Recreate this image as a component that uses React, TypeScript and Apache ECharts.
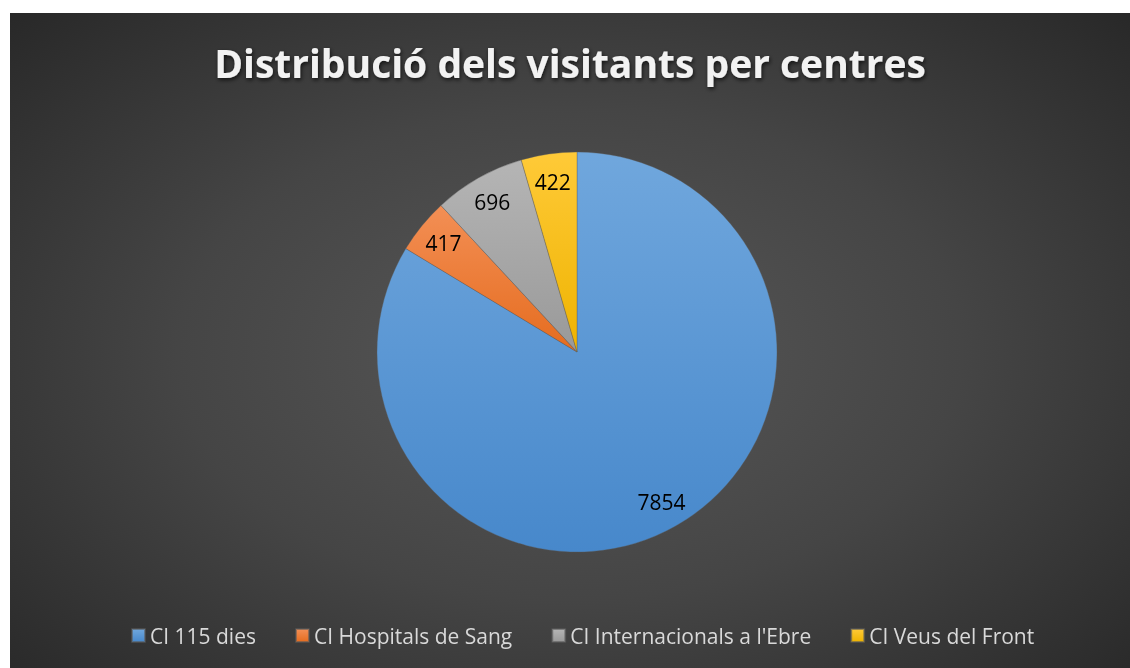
import React, { useEffect, useRef } from "react";
import * as echarts from "echarts";

const categories = ["CI 115 dies", "CI Hospitals de Sang", "CI Internacionals a l'Ebre", "CI Veus del Front"];
const visitants = [7854, 417, 696, 422];
const topColors = ["#70a7dd", "#f38f55", "#b5b5b5", "#ffca38"];
const bottomColors = ["#4788cb", "#e56c1f", "#999999", "#eeb300"];
const titleText = "Distribució dels visitants per centres";

export default function App() {
  const ref = useRef<HTMLDivElement>(null);
  useEffect(() => {
    if (!ref.current) return;
    const chart = echarts.init(ref.current, undefined, { renderer: "svg" });
    const data = categories.map((name, i) => ({
      name,
      value: visitants[i],
      itemStyle: {
        color: new echarts.graphic.LinearGradient(0, 0, 0, 1, [
          { offset: 0, color: topColors[i] },
          { offset: 1, color: bottomColors[i] },
        ]),
      },
    }));
    const labelData = categories.map((name, i) => ({ name, value: visitants[i] }));
    chart.setOption({
      animation: false,
      title: {
        text: titleText,
        left: "center",
        top: 25,
        textStyle: {
          fontFamily: "Open Sans",
          fontWeight: "bold",
          fontSize: 39,
          color: "#f2f2f2",
          textShadowColor: "rgba(0,0,0,0.7)",
          textShadowBlur: 4,
          textShadowOffsetX: 1,
          textShadowOffsetY: 2,
        },
      },
      legend: {
        data: categories,
        bottom: 17,
        left: 116,
        icon: "rect",
        itemWidth: 13,
        itemHeight: 13,
        itemGap: 39,
        textStyle: { fontFamily: "Open Sans", fontSize: 21, color: "#d9d9d9" },
      },
      series: [
        {
          type: "pie",
          center: [567, 339],
          radius: [0, 200],
          startAngle: 90,
          clockwise: true,
          data,
          label: { show: false },
          labelLine: { show: false },
          itemStyle: { borderColor: "rgba(90,90,90,0.6)", borderWidth: 0.6 },
          emphasis: { disabled: true },
        },
        {
          type: "pie",
          center: [567, 339],
          radius: [138, 200],
          startAngle: 90,
          clockwise: true,
          silent: true,
          data: labelData,
          itemStyle: { color: "transparent" },
          label: {
            show: true,
            position: "inside",
            formatter: "{c}",
            fontFamily: "Open Sans",
            fontSize: 21,
            color: "#000000",
          },
          labelLine: { show: false },
          emphasis: { disabled: true },
        },
      ],
    });
    return () => chart.dispose();
  }, []);
  return (
    <div
      ref={ref}
      style={{
        position: "fixed",
        left: 10,
        top: 13,
        width: 1120,
        height: 655,
        background: "radial-gradient(ellipse 70% 75% at 50% 52%, #585858 0%, #454545 50%, #282828 100%)",
      }}
    />
  );
}
